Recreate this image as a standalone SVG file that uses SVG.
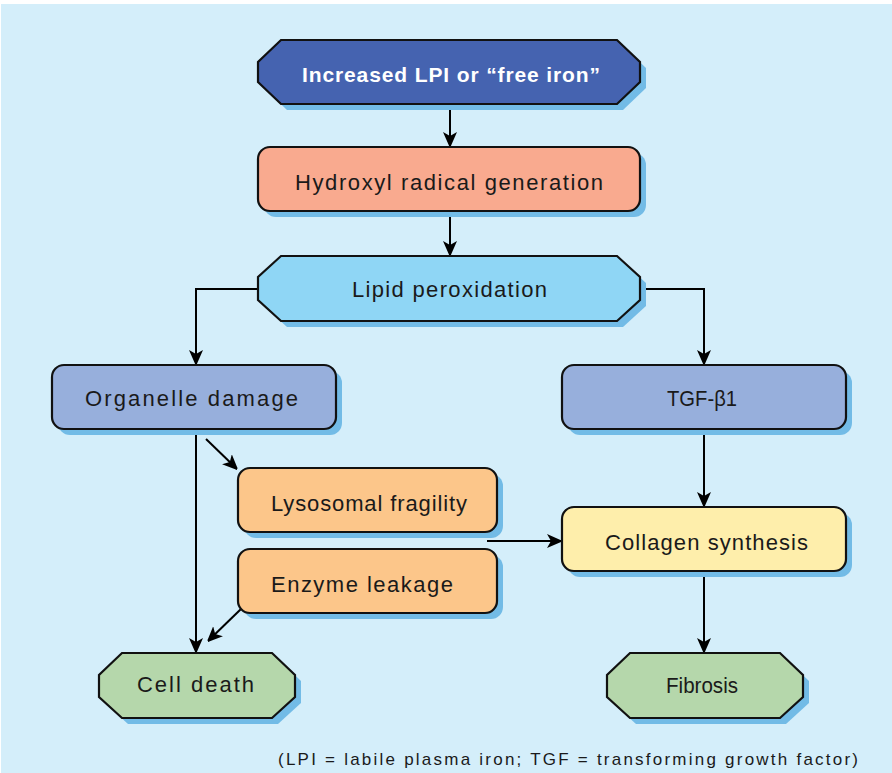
<svg xmlns="http://www.w3.org/2000/svg" width="892" height="773" viewBox="0 0 892 773">
<defs>
<marker id="ah" markerUnits="userSpaceOnUse" markerWidth="14" markerHeight="18" viewBox="0 0 14 18" refX="14" refY="7" orient="auto">
<path d="M0,0 L16,7 L0,14 L4,7 Z" fill="#000"/>
</marker>
</defs>
<style>
.bg{fill:#d4eefa}
.sh{fill:#72bbe6}
.n{stroke:#111;stroke-width:2.2}
.t{font-family:"Liberation Sans",Arial,sans-serif;font-size:22px;fill:#1a1a1a;text-anchor:start}
.c{fill:none;stroke:#000;stroke-width:2;marker-end:url(#ah)}
</style>
<rect x="0" y="0" width="892" height="773" fill="#fff"/>
<rect class="bg" x="1" y="4" width="891" height="769"/>

<g id="connectors">
<path class="c" d="M450,104 V146"/>
<path class="c" d="M450,211 V255"/>
<path class="c" d="M258,289 H196 V364"/>
<path class="c" d="M640,289 H704 V364"/>
<path class="c" d="M704,429 V506"/>
<path class="c" d="M704,571 V652"/>
<path class="c" d="M196,429 V652"/>
<path class="c" d="M206,439 L237,469"/>
<path class="c" d="M487,541 H561"/>
<path class="c" d="M241,609 L208,641"/>
</g>

<g id="n_lpi">
<polygon class="sh" transform="translate(6,6)" points="281,40 617,40 640,62 640,82 617,104 281,104 258,82 258,62"/>
<polygon class="n" fill="#4563b0" points="281,40 617,40 640,62 640,82 617,104 281,104 258,82 258,62"/>
<text class="t" x="302" y="82" textLength="298" lengthAdjust="spacing" style="fill:#fff;font-weight:bold;font-size:21px">Increased LPI or “free iron”</text>
</g>

<g id="n_hydroxyl">
<rect class="sh" x="264" y="153" width="382" height="64" rx="12"/>
<rect class="n" fill="#f9aa8f" x="258" y="147" width="382" height="64" rx="12"/>
<text class="t" x="295" y="190" textLength="308" lengthAdjust="spacing">Hydroxyl radical generation</text>
</g>

<g id="n_lipid">
<polygon class="sh" transform="translate(6,6)" points="281,256 617,256 640,277 640,300 617,321 281,321 258,300 258,277"/>
<polygon class="n" fill="#8fd6f5" points="281,256 617,256 640,277 640,300 617,321 281,321 258,300 258,277"/>
<text class="t" x="352" y="297" textLength="195" lengthAdjust="spacing">Lipid peroxidation</text>
</g>

<g id="n_organelle">
<rect class="sh" x="58" y="371" width="284" height="64" rx="12"/>
<rect class="n" fill="#97afdc" x="52" y="365" width="284" height="64" rx="12"/>
<text class="t" x="85" y="406" textLength="213" lengthAdjust="spacing">Organelle damage</text>
</g>

<g id="n_tgf">
<rect class="sh" x="568" y="371" width="284" height="64" rx="12"/>
<rect class="n" fill="#97afdc" x="562" y="365" width="284" height="64" rx="12"/>
<text class="t" x="667" y="406" textLength="70" lengthAdjust="spacingAndGlyphs">TGF-β1</text>
</g>

<g id="n_lysosomal">
<rect class="sh" x="244" y="474" width="259" height="64" rx="12"/>
<rect class="n" fill="#fcc68a" x="238" y="468" width="259" height="64" rx="12"/>
<text class="t" x="271" y="511" textLength="196" lengthAdjust="spacing">Lysosomal fragility</text>
</g>

<g id="n_enzyme">
<rect class="sh" x="244" y="555" width="259" height="64" rx="12"/>
<rect class="n" fill="#fcc68a" x="238" y="549" width="259" height="64" rx="12"/>
<text class="t" x="271" y="592" textLength="182" lengthAdjust="spacing">Enzyme leakage</text>
</g>

<g id="n_collagen">
<rect class="sh" x="568" y="513" width="284" height="64" rx="12"/>
<rect class="n" fill="#feeeab" x="562" y="507" width="284" height="64" rx="12"/>
<text class="t" x="605" y="550" textLength="203" lengthAdjust="spacing">Collagen synthesis</text>
</g>

<g id="n_celldeath">
<polygon class="sh" transform="translate(6,6)" points="122,653 272,653 295,675 295,697 272,718 122,718 99,697 99,675"/>
<polygon class="n" fill="#b5d7ab" points="122,653 272,653 295,675 295,697 272,718 122,718 99,697 99,675"/>
<text class="t" x="137" y="692" textLength="117" lengthAdjust="spacing">Cell death</text>
</g>

<g id="n_fibrosis">
<polygon class="sh" transform="translate(6,6)" points="630,653 780,653 803,675 803,697 780,718 630,718 607,697 607,675"/>
<polygon class="n" fill="#b5d7ab" points="630,653 780,653 803,675 803,697 780,718 630,718 607,697 607,675"/>
<text class="t" x="666" y="693" textLength="72" lengthAdjust="spacingAndGlyphs">Fibrosis</text>
</g>

<text class="t" x="278" y="765" textLength="580" lengthAdjust="spacing" style="font-size:17px">(LPI = labile plasma iron; TGF = transforming growth factor)</text>
</svg>
